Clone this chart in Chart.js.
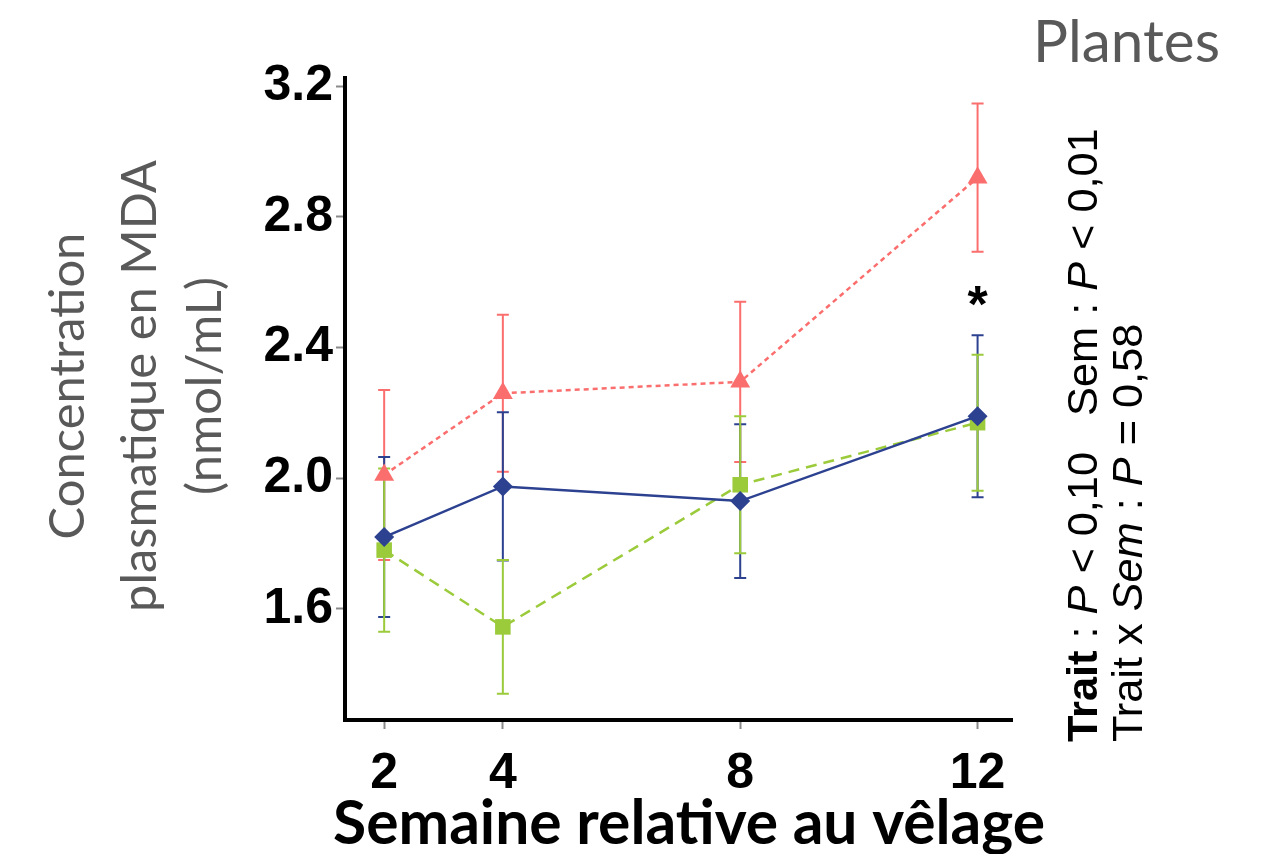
<!DOCTYPE html>
<html>
<head>
<meta charset="utf-8">
<script src="https://cdn.jsdelivr.net/npm/chart.js@4.4.1/dist/chart.umd.min.js"></script>
<style>
  html, body { margin: 0; padding: 0; background: #fff; }
  #wrap { width: 1276px; height: 854px; position: relative; }
</style>
</head>
<body>
<div id="wrap"><canvas id="chartMDA"></canvas></div>
<script>
// données
const semaines = [2, 4, 8, 12];
const mdaBleu = [1.82, 1.975, 1.93, 2.19];
const errBleu = [0.245, 0.227, 0.235, 0.248];
const mdaRouge = [2.01, 2.26, 2.295, 2.92];
const errRouge = [0.26, 0.24, 0.245, 0.227];
const mdaVert = [1.78, 1.545, 1.98, 2.17];
const errVert = [0.25, 0.205, 0.21, 0.208];
const yTicks = [1.6, 2.0, 2.4, 2.8, 3.2];
const xTicks = [2, 4, 8, 12];

const titreY = ['Concentration', 'plasmatique en MDA', '(nmol/mL)'];
const titreX = 'Semaine relative au vêlage';
const stats1 = [['Trait', 'bold'], [' : ', ''], ['P', 'italic'], [' < 0,10   Sem : ', ''], ['P', 'italic'], [' < 0,01', '']];
const stats2 = [['Trait x ', ''], ['Sem', 'italic'], [' : ', ''], ['P', 'italic'], [' = 0,58', '']];

const ROUGE = '#fb6e6e';
const BLEU = '#2c4190';
const VERT = '#9bcb3b';

const pts = (ys) => semaines.map((s, i) => ({ x: s, y: ys[i] }));

// taille de police qui donne la largeur voulue
function fitSize(ctx, runs, width, family) {
    let w = 0;
    runs.forEach(([t, st]) => { ctx.font = `${st} 100px ${family}`; w += ctx.measureText(t).width; });
    return 100 * width / w;
}
function drawRuns(ctx, runs, size, family) {
    let x = 0;
    runs.forEach(([t, st]) => {
        ctx.font = `${st} ${size}px ${family}`;
        ctx.fillText(t, x, 0);
        x += ctx.measureText(t).width;
    });
}

const errorBars = {
    id: 'errorBars',
    beforeDatasetsDraw(chart) {
        const { ctx, scales: { x, y } } = chart;
        const errs = [errRouge, errBleu, errVert];
        chart.data.datasets.forEach((ds, k) => {
            ctx.save();
            ctx.strokeStyle = ds.borderColor;
            ctx.lineWidth = 2;
            ds.data.forEach((p, i) => {
                const px = x.getPixelForValue(p.x);
                const top = y.getPixelForValue(p.y + errs[k][i]);
                const bot = y.getPixelForValue(p.y - errs[k][i]);
                ctx.beginPath();
                ctx.moveTo(px, top); ctx.lineTo(px, bot);
                ctx.moveTo(px - 6, top); ctx.lineTo(px + 6, top);
                ctx.moveTo(px - 6, bot); ctx.lineTo(px + 6, bot);
                ctx.stroke();
            });
            ctx.restore();
        });
    },
    afterDraw(chart) {
        const { ctx, scales: { x, y } } = chart;
        ctx.save();

        // titre Y, trois lignes tournées
        ctx.fillStyle = '#595959';
        ctx.textAlign = 'center';
        ctx.textBaseline = 'middle';
        const fy = fitSize(ctx, [[titreY[1], '']], 452, 'Lato');
        [68, 140, 205].forEach((cx, i) => {
            ctx.save();
            ctx.translate(cx, 386);
            ctx.rotate(-Math.PI / 2);
            ctx.font = `${fy}px Lato`;
            ctx.fillText(titreY[i], 0, 0);
            ctx.restore();
        });

        // titre X
        ctx.fillStyle = '#000';
        const fx = fitSize(ctx, [[titreX, 'bold']], 712, 'Lato');
        ctx.font = `bold ${fx}px Lato`;
        ctx.fillText(titreX, 689, 824);

        // Plantes
        ctx.fillStyle = '#595959';
        const fp = fitSize(ctx, [['Plantes', '']], 187, 'Lato');
        ctx.font = `${fp}px Lato`;
        ctx.textAlign = 'left';
        ctx.textBaseline = 'alphabetic';
        ctx.fillText('Plantes', 1033, 62);

        // astérisque au-dessus de la semaine 12
        ctx.fillStyle = '#000';
        ctx.font = 'bold 52px "Liberation Sans"';
        ctx.textAlign = 'center';
        const m = ctx.measureText('*');
        const h = m.actualBoundingBoxAscent - m.actualBoundingBoxDescent;
        ctx.fillText('*', x.getPixelForValue(12), 296 + h / 2);

        // statistiques, texte vertical à droite
        ctx.textAlign = 'left';
        ctx.textBaseline = 'middle';
        const fs = fitSize(ctx, stats1, 614, '"Liberation Sans"');
        [[stats1, 1085], [stats2, 1130]].forEach(([runs, cx]) => {
            ctx.save();
            ctx.translate(cx, 742);
            ctx.rotate(-Math.PI / 2);
            drawRuns(ctx, runs, fs, '"Liberation Sans"');
            ctx.restore();
        });
        ctx.restore();
    }
};

const tickFont = { family: '"Liberation Sans", Arial', size: 50, weight: 'bold' };

new Chart(document.getElementById('chartMDA'), {
    type: 'line',
    data: {
        datasets: [
            {
                label: 'Rouge',
                data: pts(mdaRouge),
                borderColor: ROUGE,
                backgroundColor: ROUGE,
                borderWidth: 2.5,
                borderDash: [5, 4],
                pointStyle: 'triangle',
                pointRadius: 11.5,
                pointBorderWidth: 0
            },
            {
                label: 'Bleu',
                data: pts(mdaBleu),
                borderColor: BLEU,
                backgroundColor: BLEU,
                borderWidth: 2.5,
                pointStyle: 'rectRot',
                pointRadius: 10,
                pointBorderWidth: 0
            },
            {
                label: 'Vert',
                data: pts(mdaVert),
                borderColor: VERT,
                backgroundColor: VERT,
                borderWidth: 2.5,
                borderDash: [11, 7],
                pointStyle: 'rect',
                pointRadius: 11,
                pointBorderWidth: 0
            }
        ]
    },
    options: {
        responsive: true,
        maintainAspectRatio: false,
        animation: false,
        events: [],
        layout: { padding: { left: 0, top: 78, right: 264, bottom: 0 } },
        plugins: { legend: { display: false }, tooltip: { enabled: false } },
        scales: {
            x: {
                type: 'linear',
                min: 1.34,
                max: 12.58,
                afterBuildTicks: (s) => { s.ticks = xTicks.map(v => ({ value: v })); },
                afterFit: (s) => { s.height = 134; },
                border: { color: '#000', width: 4 },
                grid: { drawOnChartArea: false, tickLength: 9, tickWidth: 2, color: '#8a8a8a' },
                ticks: { autoSkip: false, maxRotation: 0, color: '#000', font: tickFont, padding: 15 }
            },
            y: {
                min: 1.26,
                max: 3.225,
                afterBuildTicks: (s) => { s.ticks = yTicks.map(v => ({ value: v })); },
                afterFit: (s) => { s.width = 345; },
                border: { color: '#000', width: 4 },
                grid: { drawOnChartArea: false, tickLength: 9, tickWidth: 2, color: '#8a8a8a' },
                ticks: { color: '#000', font: tickFont, padding: 3, callback: (v) => v.toFixed(1) }
            }
        }
    },
    plugins: [errorBars]
});
</script>
</body>
</html>
